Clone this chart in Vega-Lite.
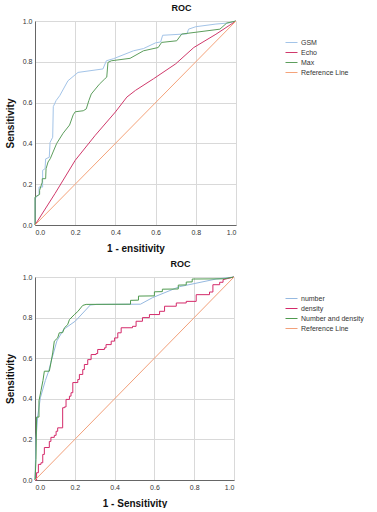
{
  "$schema": "https://vega.github.io/schema/vega-lite/v6.json",
  "padding": {"left": 5, "top": 4, "right": 0, "bottom": 0},
  "background": "white",
  "config": {
    "font": "Liberation Sans",
    "view": {"stroke": null},
    "axis": {"grid": true, "gridColor": "#d9d9d9", "gridWidth": 1, "ticks": false, "labelFontSize": 7, "labelColor": "#333333", "labelPadding": 3, "domainColor": "#666666", "titleFontSize": 10, "titleFontWeight": "bold", "titleColor": "#111111", "format": ".1f", "values": [0, 0.2, 0.4, 0.6, 0.8, 1]},
    "legend": {"orient": "none", "legendX": 250, "legendY": 15, "title": null, "symbolType": "stroke", "symbolSize": 144, "symbolStrokeWidth": 1, "labelFontSize": 7, "labelOffset": 3, "rowPadding": -4, "labelColor": "#333333", "padding": 0},
    "title": {"fontSize": 9, "fontWeight": "bold", "offset": 0, "dx": 46, "color": "#111111"}
  },
  "spacing": 7,
  "resolve": {"scale": {"color": "independent"}, "legend": {"color": "independent"}},
  "datasets": {
    "top": [
      {"s": "GSM", "x": 0, "y": 0}, {"s": "GSM", "x": 0, "y": 0.13}, {"s": "GSM", "x": 0.02, "y": 0.15}, {"s": "GSM", "x": 0.02, "y": 0.186}, {"s": "GSM", "x": 0.038, "y": 0.186}, {"s": "GSM", "x": 0.038, "y": 0.268}, {"s": "GSM", "x": 0.05, "y": 0.276}, {"s": "GSM", "x": 0.053, "y": 0.324}, {"s": "GSM", "x": 0.071, "y": 0.332}, {"s": "GSM", "x": 0.075, "y": 0.405}, {"s": "GSM", "x": 0.088, "y": 0.43}, {"s": "GSM", "x": 0.091, "y": 0.58}, {"s": "GSM", "x": 0.105, "y": 0.61}, {"s": "GSM", "x": 0.123, "y": 0.634}, {"s": "GSM", "x": 0.164, "y": 0.707}, {"s": "GSM", "x": 0.214, "y": 0.748}, {"s": "GSM", "x": 0.338, "y": 0.765}, {"s": "GSM", "x": 0.355, "y": 0.805}, {"s": "GSM", "x": 0.39, "y": 0.815}, {"s": "GSM", "x": 0.49, "y": 0.854}, {"s": "GSM", "x": 0.54, "y": 0.865}, {"s": "GSM", "x": 0.6, "y": 0.893}, {"s": "GSM", "x": 0.625, "y": 0.897}, {"s": "GSM", "x": 0.635, "y": 0.93}, {"s": "GSM", "x": 0.756, "y": 0.937}, {"s": "GSM", "x": 0.764, "y": 0.96}, {"s": "GSM", "x": 0.8, "y": 0.972}, {"s": "GSM", "x": 0.9, "y": 0.985}, {"s": "GSM", "x": 0.96, "y": 0.99}, {"s": "GSM", "x": 1, "y": 1},
      {"s": "Echo", "x": 0, "y": 0}, {"s": "Echo", "x": 0.1, "y": 0.155}, {"s": "Echo", "x": 0.2, "y": 0.317}, {"s": "Echo", "x": 0.3, "y": 0.44}, {"s": "Echo", "x": 0.4, "y": 0.554}, {"s": "Echo", "x": 0.457, "y": 0.627}, {"s": "Echo", "x": 0.5, "y": 0.66}, {"s": "Echo", "x": 0.59, "y": 0.717}, {"s": "Echo", "x": 0.7, "y": 0.79}, {"s": "Echo", "x": 0.79, "y": 0.87}, {"s": "Echo", "x": 0.9, "y": 0.935}, {"s": "Echo", "x": 1, "y": 1},
      {"s": "Max", "x": 0, "y": 0}, {"s": "Max", "x": 0, "y": 0.137}, {"s": "Max", "x": 0.023, "y": 0.15}, {"s": "Max", "x": 0.023, "y": 0.17}, {"s": "Max", "x": 0.036, "y": 0.21}, {"s": "Max", "x": 0.036, "y": 0.227}, {"s": "Max", "x": 0.053, "y": 0.227}, {"s": "Max", "x": 0.055, "y": 0.276}, {"s": "Max", "x": 0.065, "y": 0.309}, {"s": "Max", "x": 0.076, "y": 0.325}, {"s": "Max", "x": 0.09, "y": 0.358}, {"s": "Max", "x": 0.108, "y": 0.4}, {"s": "Max", "x": 0.14, "y": 0.45}, {"s": "Max", "x": 0.172, "y": 0.49}, {"s": "Max", "x": 0.19, "y": 0.54}, {"s": "Max", "x": 0.2, "y": 0.555}, {"s": "Max", "x": 0.24, "y": 0.56}, {"s": "Max", "x": 0.255, "y": 0.569}, {"s": "Max", "x": 0.268, "y": 0.61}, {"s": "Max", "x": 0.28, "y": 0.642}, {"s": "Max", "x": 0.32, "y": 0.69}, {"s": "Max", "x": 0.347, "y": 0.716}, {"s": "Max", "x": 0.357, "y": 0.725}, {"s": "Max", "x": 0.363, "y": 0.797}, {"s": "Max", "x": 0.38, "y": 0.805}, {"s": "Max", "x": 0.473, "y": 0.817}, {"s": "Max", "x": 0.54, "y": 0.854}, {"s": "Max", "x": 0.613, "y": 0.87}, {"s": "Max", "x": 0.63, "y": 0.895}, {"s": "Max", "x": 0.705, "y": 0.903}, {"s": "Max", "x": 0.73, "y": 0.936}, {"s": "Max", "x": 0.92, "y": 0.96}, {"s": "Max", "x": 0.954, "y": 0.99}, {"s": "Max", "x": 1, "y": 1},
      {"s": "Reference Line", "x": 0, "y": 0}, {"s": "Reference Line", "x": 1, "y": 1}
    ],
    "bottom": [
      {"s": "number", "x": 0, "y": 0}, {"s": "number", "x": 0.005, "y": 0.2}, {"s": "number", "x": 0.013, "y": 0.31}, {"s": "number", "x": 0.027, "y": 0.405}, {"s": "number", "x": 0.052, "y": 0.49}, {"s": "number", "x": 0.069, "y": 0.537}, {"s": "number", "x": 0.08, "y": 0.58}, {"s": "number", "x": 0.11, "y": 0.685}, {"s": "number", "x": 0.144, "y": 0.742}, {"s": "number", "x": 0.203, "y": 0.783}, {"s": "number", "x": 0.278, "y": 0.862}, {"s": "number", "x": 0.31, "y": 0.865}, {"s": "number", "x": 0.53, "y": 0.866}, {"s": "number", "x": 0.59, "y": 0.898}, {"s": "number", "x": 0.725, "y": 0.952}, {"s": "number", "x": 0.91, "y": 0.99}, {"s": "number", "x": 1, "y": 1},
      {"s": "density", "x": 0, "y": 0}, {"s": "density", "x": 0.008, "y": 0}, {"s": "density", "x": 0.008, "y": 0.036}, {"s": "density", "x": 0.017, "y": 0.036}, {"s": "density", "x": 0.017, "y": 0.077}, {"s": "density", "x": 0.03, "y": 0.077}, {"s": "density", "x": 0.03, "y": 0.085}, {"s": "density", "x": 0.039, "y": 0.085}, {"s": "density", "x": 0.039, "y": 0.126}, {"s": "density", "x": 0.047, "y": 0.126}, {"s": "density", "x": 0.047, "y": 0.16}, {"s": "density", "x": 0.072, "y": 0.16}, {"s": "density", "x": 0.072, "y": 0.19}, {"s": "density", "x": 0.08, "y": 0.19}, {"s": "density", "x": 0.08, "y": 0.21}, {"s": "density", "x": 0.097, "y": 0.21}, {"s": "density", "x": 0.097, "y": 0.22}, {"s": "density", "x": 0.106, "y": 0.22}, {"s": "density", "x": 0.106, "y": 0.24}, {"s": "density", "x": 0.114, "y": 0.24}, {"s": "density", "x": 0.114, "y": 0.257}, {"s": "density", "x": 0.139, "y": 0.257}, {"s": "density", "x": 0.139, "y": 0.356}, {"s": "density", "x": 0.148, "y": 0.356}, {"s": "density", "x": 0.148, "y": 0.36}, {"s": "density", "x": 0.156, "y": 0.36}, {"s": "density", "x": 0.156, "y": 0.397}, {"s": "density", "x": 0.173, "y": 0.397}, {"s": "density", "x": 0.173, "y": 0.413}, {"s": "density", "x": 0.181, "y": 0.413}, {"s": "density", "x": 0.181, "y": 0.43}, {"s": "density", "x": 0.19, "y": 0.43}, {"s": "density", "x": 0.19, "y": 0.48}, {"s": "density", "x": 0.215, "y": 0.48}, {"s": "density", "x": 0.215, "y": 0.495}, {"s": "density", "x": 0.223, "y": 0.495}, {"s": "density", "x": 0.223, "y": 0.52}, {"s": "density", "x": 0.24, "y": 0.52}, {"s": "density", "x": 0.24, "y": 0.544}, {"s": "density", "x": 0.248, "y": 0.544}, {"s": "density", "x": 0.248, "y": 0.569}, {"s": "density", "x": 0.265, "y": 0.569}, {"s": "density", "x": 0.265, "y": 0.593}, {"s": "density", "x": 0.282, "y": 0.593}, {"s": "density", "x": 0.282, "y": 0.618}, {"s": "density", "x": 0.307, "y": 0.618}, {"s": "density", "x": 0.307, "y": 0.623}, {"s": "density", "x": 0.315, "y": 0.623}, {"s": "density", "x": 0.315, "y": 0.643}, {"s": "density", "x": 0.349, "y": 0.643}, {"s": "density", "x": 0.349, "y": 0.651}, {"s": "density", "x": 0.357, "y": 0.651}, {"s": "density", "x": 0.357, "y": 0.667}, {"s": "density", "x": 0.383, "y": 0.667}, {"s": "density", "x": 0.383, "y": 0.684}, {"s": "density", "x": 0.4, "y": 0.684}, {"s": "density", "x": 0.4, "y": 0.7}, {"s": "density", "x": 0.416, "y": 0.7}, {"s": "density", "x": 0.416, "y": 0.725}, {"s": "density", "x": 0.433, "y": 0.725}, {"s": "density", "x": 0.433, "y": 0.75}, {"s": "density", "x": 0.49, "y": 0.75}, {"s": "density", "x": 0.49, "y": 0.757}, {"s": "density", "x": 0.508, "y": 0.757}, {"s": "density", "x": 0.508, "y": 0.782}, {"s": "density", "x": 0.54, "y": 0.782}, {"s": "density", "x": 0.54, "y": 0.8}, {"s": "density", "x": 0.575, "y": 0.8}, {"s": "density", "x": 0.575, "y": 0.815}, {"s": "density", "x": 0.626, "y": 0.815}, {"s": "density", "x": 0.626, "y": 0.831}, {"s": "density", "x": 0.651, "y": 0.831}, {"s": "density", "x": 0.651, "y": 0.856}, {"s": "density", "x": 0.71, "y": 0.856}, {"s": "density", "x": 0.71, "y": 0.872}, {"s": "density", "x": 0.76, "y": 0.872}, {"s": "density", "x": 0.76, "y": 0.88}, {"s": "density", "x": 0.81, "y": 0.88}, {"s": "density", "x": 0.81, "y": 0.913}, {"s": "density", "x": 0.877, "y": 0.913}, {"s": "density", "x": 0.877, "y": 0.926}, {"s": "density", "x": 0.894, "y": 0.926}, {"s": "density", "x": 0.894, "y": 0.962}, {"s": "density", "x": 0.928, "y": 0.962}, {"s": "density", "x": 0.928, "y": 0.974}, {"s": "density", "x": 0.945, "y": 0.974}, {"s": "density", "x": 0.945, "y": 0.987}, {"s": "density", "x": 1, "y": 1},
      {"s": "Number and density", "x": 0, "y": 0}, {"s": "Number and density", "x": 0.005, "y": 0.1}, {"s": "Number and density", "x": 0.008, "y": 0.31}, {"s": "Number and density", "x": 0.02, "y": 0.31}, {"s": "Number and density", "x": 0.02, "y": 0.39}, {"s": "Number and density", "x": 0.03, "y": 0.44}, {"s": "Number and density", "x": 0.04, "y": 0.49}, {"s": "Number and density", "x": 0.047, "y": 0.536}, {"s": "Number and density", "x": 0.072, "y": 0.536}, {"s": "Number and density", "x": 0.08, "y": 0.577}, {"s": "Number and density", "x": 0.089, "y": 0.626}, {"s": "Number and density", "x": 0.097, "y": 0.684}, {"s": "Number and density", "x": 0.114, "y": 0.7}, {"s": "Number and density", "x": 0.122, "y": 0.725}, {"s": "Number and density", "x": 0.139, "y": 0.726}, {"s": "Number and density", "x": 0.148, "y": 0.75}, {"s": "Number and density", "x": 0.164, "y": 0.765}, {"s": "Number and density", "x": 0.173, "y": 0.79}, {"s": "Number and density", "x": 0.198, "y": 0.815}, {"s": "Number and density", "x": 0.215, "y": 0.83}, {"s": "Number and density", "x": 0.24, "y": 0.86}, {"s": "Number and density", "x": 0.257, "y": 0.865}, {"s": "Number and density", "x": 0.48, "y": 0.866}, {"s": "Number and density", "x": 0.48, "y": 0.885}, {"s": "Number and density", "x": 0.52, "y": 0.886}, {"s": "Number and density", "x": 0.52, "y": 0.906}, {"s": "Number and density", "x": 0.6, "y": 0.907}, {"s": "Number and density", "x": 0.6, "y": 0.927}, {"s": "Number and density", "x": 0.64, "y": 0.928}, {"s": "Number and density", "x": 0.64, "y": 0.94}, {"s": "Number and density", "x": 0.72, "y": 0.941}, {"s": "Number and density", "x": 0.72, "y": 0.96}, {"s": "Number and density", "x": 0.76, "y": 0.961}, {"s": "Number and density", "x": 0.76, "y": 0.975}, {"s": "Number and density", "x": 0.79, "y": 0.976}, {"s": "Number and density", "x": 0.79, "y": 0.99}, {"s": "Number and density", "x": 0.95, "y": 0.991}, {"s": "Number and density", "x": 1, "y": 1},
      {"s": "Reference Line", "x": 0, "y": 0}, {"s": "Reference Line", "x": 1, "y": 1}
    ]
  },
  "vconcat": [
    {
      "title": "ROC",
      "width": 201,
      "height": 204,
      "data": {"name": "top"},
      "mark": {"type": "line", "strokeWidth": 1},
      "encoding": {
        "x": {"field": "x", "type": "quantitative", "scale": {"domain": [0, 1], "nice": false}, "axis": {"title": "1 - ensitivity", "titlePadding": 8}},
        "y": {"field": "y", "type": "quantitative", "scale": {"domain": [0, 1], "nice": false}, "axis": {"title": "Sensitivity", "titlePadding": 7}},
        "color": {"field": "s", "type": "nominal", "scale": {"domain": ["GSM", "Echo", "Max", "Reference Line"], "range": ["#a3c4e8", "#d0396b", "#5d9e5d", "#f5a37a"]}},
        "order": [{"field": "y", "type": "quantitative"}, {"field": "x", "type": "quantitative"}]
      }
    },
    {
      "title": "ROC",
      "width": 199,
      "height": 203,
      "data": {"name": "bottom"},
      "mark": {"type": "line", "strokeWidth": 1},
      "encoding": {
        "x": {"field": "x", "type": "quantitative", "scale": {"domain": [0, 1], "nice": false}, "axis": {"title": "1 - Sensitivity", "titlePadding": 8}},
        "y": {"field": "y", "type": "quantitative", "scale": {"domain": [0, 1], "nice": false}, "axis": {"title": "Sensitivity", "titlePadding": 7}},
        "color": {"field": "s", "type": "nominal", "scale": {"domain": ["number", "density", "Number and density", "Reference Line"], "range": ["#96b9e0", "#d42a6a", "#4f9a4f", "#f2a07a"]}},
        "order": [{"field": "y", "type": "quantitative"}, {"field": "x", "type": "quantitative"}]
      }
    }
  ]
}
